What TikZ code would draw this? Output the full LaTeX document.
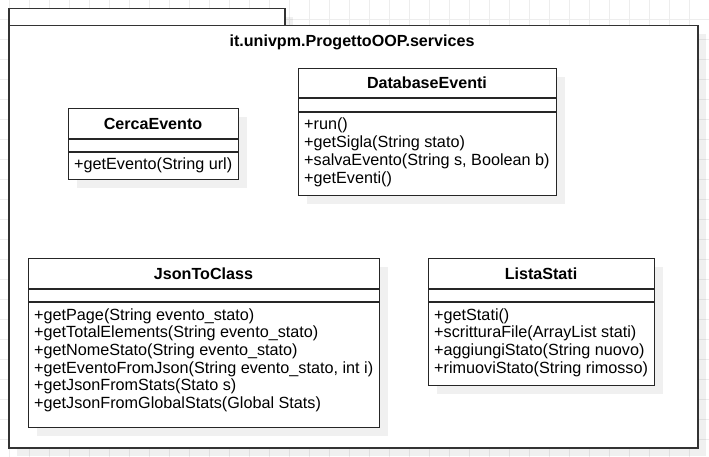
\documentclass[tikz,border=0pt]{standalone}
\usepackage{fontspec}
\setmainfont{Liberation Sans}
\usepackage{tikz}
\usetikzlibrary{shadows}

\tikzset{
  gridline/.style={draw=black!7, line width=0.8pt},
  umlshadow/.style={drop shadow={shadow xshift=8pt, shadow yshift=-8pt, fill=black, opacity=0.06}},
  pkgbox/.style={draw=black!80, line width=1.5pt, fill=white, rectangle, anchor=north west, inner sep=0pt, umlshadow},
  umlclass/.style={draw=black!85, line width=1.3pt, fill=white, rectangle, anchor=north west, inner sep=0pt, umlshadow},
  umlline/.style={draw=black!85, line width=1.3pt},
  classname/.style={font=\fontsize{16.1}{18}\selectfont\bfseries, inner sep=0pt, anchor=base},
  method/.style={font=\fontsize{16.2}{18}\selectfont, inner sep=0pt, anchor=base west}
}

\begin{document}
\begin{tikzpicture}[x=1pt, y=-1pt]
      \useasboundingbox (0,0) rectangle (709,457);
      \foreach \x in {9,29,...,709}
        \draw[gridline] (\x,0) -- (\x,457);
      \foreach \y in {19,39,...,439}
        \draw[gridline] (0,\y) -- (709,\y);

      \node[pkgbox, minimum width=276pt, minimum height=17pt] (pkgtab) at (8,8) {};
      \node[pkgbox, minimum width=689pt, minimum height=422pt] (pkg) at (8,25) {};
      \node[classname] (pkgname) at (352,47) {it.univpm.ProgettoOOP.services};

      \node[umlclass, minimum width=170pt, minimum height=71pt] (cerca) at (68,108) {};
      \node[classname] (cercaname) at (153,129.2) {CercaEvento};
      \draw[umlline] (68,139) -- (238,139) (68,152) -- (238,152);
      \node[method] (cercam0) at (74,170) {+getEvento(String url)};

      \node[umlclass, minimum width=258pt, minimum height=127pt] (db) at (298,68) {};
      \node[classname] (dbname) at (427,88.7) {DatabaseEventi};
      \draw[umlline] (298,98) -- (556,98) (298,112) -- (556,112);
      \foreach \m [count=\i from 0] in {+run(), +getSigla(String stato),
          {+salvaEvento(String s, Boolean b)}, +getEventi()}
        \node[method] (dbm\i) at (304,130+17.7*\i) {\m};

      \node[umlclass, minimum width=351pt, minimum height=169pt] (json) at (28,258) {};
      \node[classname] (jsonname) at (203.5,279.2) {JsonToClass};
      \draw[umlline] (28,289) -- (379,289) (28,302) -- (379,302);
      \foreach \m [count=\i from 0] in {+getPage(String evento\_stato),
          +getTotalElements(String evento\_stato), +getNomeStato(String evento\_stato),
          {+getEventoFromJson(String evento\_stato, int i)}, +getJsonFromStats(Stato s),
          +getJsonFromGlobalStats(Global Stats)}
        \node[method] (jsonm\i) at (34,320+17.7*\i) {\m};

      \node[umlclass, minimum width=226pt, minimum height=127pt] (lista) at (428,258) {};
      \node[classname] (listaname) at (541,279.2) {ListaStati};
      \draw[umlline] (428,289) -- (654,289) (428,302) -- (654,302);
      \foreach \m [count=\i from 0] in {+getStati(), +scritturaFile(ArrayList stati),
          +aggiungiStato(String nuovo), +rimuoviStato(String rimosso)}
        \node[method] (listam\i) at (434,320+17.7*\i) {\m};
\end{tikzpicture}
\end{document}
